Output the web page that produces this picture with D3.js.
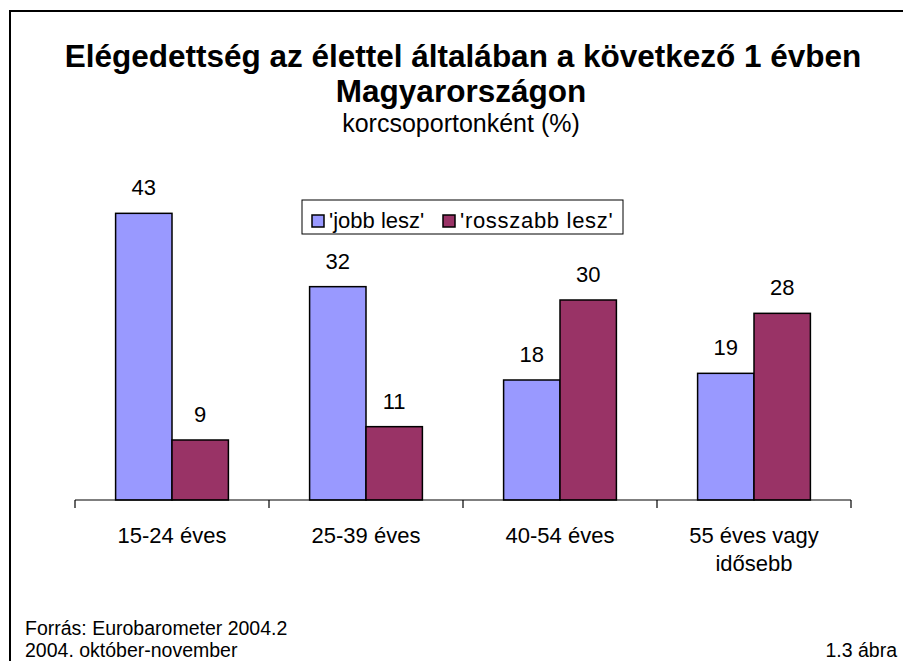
<!DOCTYPE html>
<html>
<head>
<meta charset="utf-8">
<script src="https://cdn.jsdelivr.net/npm/d3@7"></script>
<style>
  body { margin: 0; background: #fff; }
  svg { display: block; font-family: Arial, "Liberation Sans", sans-serif; }
</style>
</head>
<body>
<svg id="chart" width="903" height="661"></svg>
<script>
// data
const categories = ["15-24 éves", "25-39 éves", "40-54 éves", "55 éves vagy idősebb"];
const jobbLesz = [43, 32, 18, 19];
const rosszabbLesz = [9, 11, 30, 28];
const seriesNames = ["'jobb lesz'", "'rosszabb lesz'"];
const seriesColors = ["#9999ff", "#993366"];

const svg = d3.select("#chart");

// frame (only top and left edges fall inside the picture)
svg.append("rect")
    .attr("x", 10).attr("y", 11)
    .attr("width", 1000).attr("height", 1000)
    .attr("fill", "none")
    .attr("stroke", "#000")
    .attr("stroke-width", 2);

// titles
svg.append("text")
    .attr("x", 463).attr("y", 67)
    .attr("text-anchor", "middle")
    .style("font-weight", "bold").style("font-size", "31.5px")
    .text("Elégedettség az élettel általában a következő 1 évben");
svg.append("text")
    .attr("x", 461).attr("y", 102)
    .attr("text-anchor", "middle")
    .style("font-weight", "bold").style("font-size", "31.5px")
    .text("Magyarországon");
svg.append("text")
    .attr("x", 461).attr("y", 132)
    .attr("text-anchor", "middle")
    .style("font-size", "25px")
    .text("korcsoportonként (%)");

// scales
const x0 = d3.scaleBand()
    .domain(categories)
    .range([75, 851]);
const x1 = d3.scaleBand()
    .domain([0, 1])
    .range([0, x0.bandwidth()])
    .paddingOuter(0.72);
const y = d3.scaleLinear()
    .domain([0, 45])
    .range([500, 200]);

const rows = categories.map((c, i) => ({ cat: c, vals: [jobbLesz[i], rosszabbLesz[i]] }));

const groups = svg.append("g").selectAll("g")
    .data(rows)
    .join("g")
    .attr("transform", d => `translate(${x0(d.cat)},0)`);

groups.selectAll("rect")
    .data(d => d.vals.map((v, k) => ({ v, k })))
    .join("rect")
    .attr("x", d => x1(d.k))
    .attr("y", d => y(d.v))
    .attr("width", x1.bandwidth())
    .attr("height", d => y(0) - y(d.v))
    .attr("fill", d => seriesColors[d.k])
    .attr("stroke", "#000")
    .attr("stroke-width", 1.5);

groups.selectAll("text.val")
    .data(d => d.vals.map((v, k) => ({ v, k })))
    .join("text")
    .attr("class", "val")
    .attr("x", d => x1(d.k) + x1.bandwidth() / 2)
    .attr("y", d => y(d.v) - 18)
    .attr("text-anchor", "middle")
    .style("font-size", "22px")
    .text(d => d.v);

// x axis
const axis = svg.append("g")
    .attr("transform", `translate(0,${y(0)})`);
axis.append("line")
    .attr("x1", 75).attr("x2", 851)
    .attr("stroke", "#000").attr("stroke-width", 1.2);
axis.selectAll("line.tick")
    .data(categories.map(c => x0(c)).concat([x0.range()[1]]))
    .join("line")
    .attr("class", "tick")
    .attr("x1", d => d).attr("x2", d => d)
    .attr("y1", 0).attr("y2", 8)
    .attr("stroke", "#000").attr("stroke-width", 1.2);

const wrapLabels = { "55 éves vagy idősebb": ["55 éves vagy", "idősebb"] };
axis.selectAll("text.cat")
    .data(categories)
    .join("text")
    .attr("class", "cat")
    .attr("text-anchor", "middle")
    .style("font-size", "22px")
    .each(function(c) {
        const lines = wrapLabels[c] || [c];
        d3.select(this).selectAll("tspan")
            .data(lines)
            .join("tspan")
            .attr("x", x0(c) + x0.bandwidth() / 2)
            .attr("y", (d, i) => 43 + i * 28)
            .text(d => d);
    });

// legend
const legend = svg.append("g");
legend.append("rect")
    .attr("x", 302).attr("y", 200)
    .attr("width", 321).attr("height", 34)
    .attr("fill", "#fff")
    .attr("stroke", "#000").attr("stroke-width", 1);
const legendX = [312, 443];
seriesNames.forEach((name, i) => {
    legend.append("rect")
        .attr("x", legendX[i]).attr("y", 215)
        .attr("width", 12).attr("height", 12)
        .attr("fill", seriesColors[i])
        .attr("stroke", "#000").attr("stroke-width", 1.5);
    legend.append("text")
        .attr("x", legendX[i] + 17).attr("y", 228)
        .style("font-size", "22px")
        .style("letter-spacing", i === 1 ? "0.7px" : null)
        .text(name);
});

// footer
svg.append("text")
    .attr("x", 25).attr("y", 635)
    .style("font-size", "19.5px")
    .text("Forrás: Eurobarometer 2004.2");
svg.append("text")
    .attr("x", 25).attr("y", 657)
    .style("font-size", "19.5px")
    .text("2004. október-november");
svg.append("text")
    .attr("x", 897).attr("y", 657)
    .attr("text-anchor", "end")
    .style("font-size", "19.5px")
    .text("1.3 ábra");
</script>
</body>
</html>
